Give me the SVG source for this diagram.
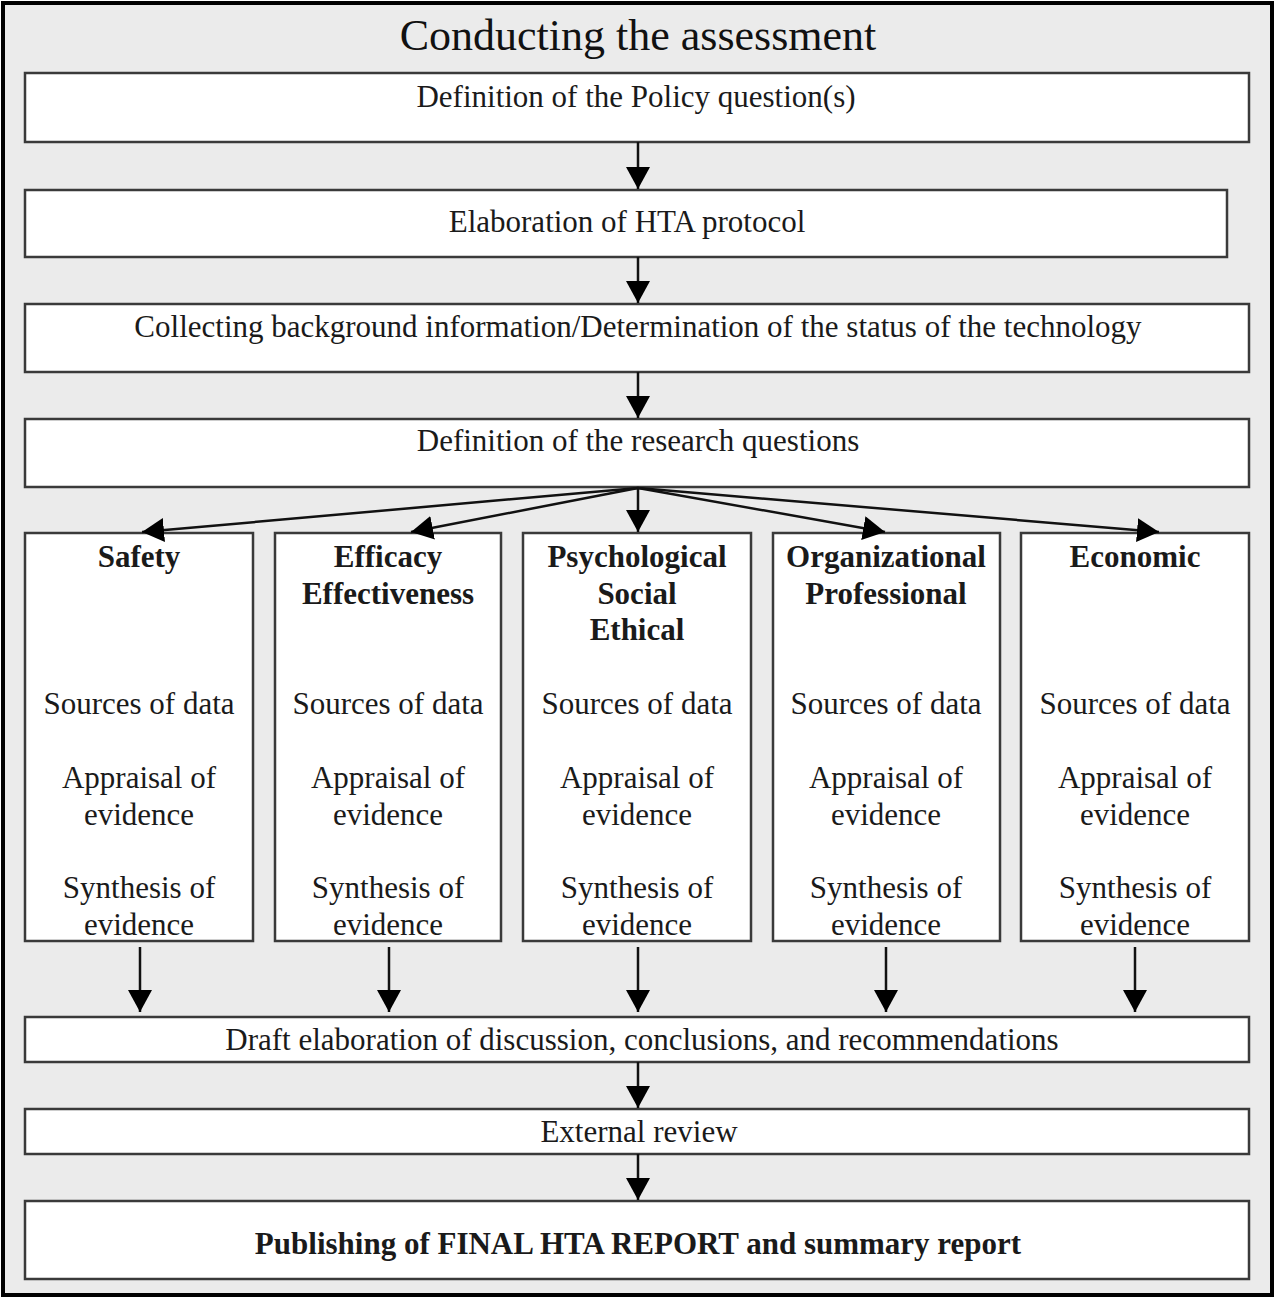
<svg xmlns="http://www.w3.org/2000/svg" width="1278" height="1302" viewBox="0 0 1278 1302">
<style>
.box{fill:#ffffff;stroke:#3a3a3a;stroke-width:2.5}
.t{font-family:"Liberation Serif","Times New Roman",serif;font-size:31px;fill:#1a1a1a;text-anchor:middle}
.b{font-weight:bold}
.title{font-family:"Liberation Serif","Times New Roman",serif;font-size:44px;fill:#111;text-anchor:middle}
.con line{stroke:#111;stroke-width:2.5;fill:none}
</style>
<defs>
<marker id="ah" viewBox="0 0 22 24" refX="22" refY="12" markerWidth="22" markerHeight="24" markerUnits="userSpaceOnUse" orient="auto">
<path d="M0,0 L22,12 L0,24 Z" fill="#000"/>
</marker>
</defs>
<rect x="0" y="0" width="1278" height="1302" fill="#ffffff"/>
<rect id="frame" x="3" y="3" width="1269" height="1292" fill="#ebebeb" stroke="#000" stroke-width="4"/>
<text class="title" x="638" y="50">Conducting the assessment</text>

<g id="policy"><rect class="box" x="25" y="73" width="1224" height="69"/><text class="t" x="636" y="107">Definition of the Policy question(s)</text></g>
<g id="protocol"><rect class="box" x="25" y="190" width="1202" height="67"/><text class="t" x="627" y="232">Elaboration of HTA protocol</text></g>
<g id="background"><rect class="box" x="25" y="304" width="1224" height="68"/><text class="t" x="638" y="337">Collecting background information/Determination of the status of the technology</text></g>
<g id="research"><rect class="box" x="25" y="419" width="1224" height="68"/><text class="t" x="638" y="451">Definition of the research questions</text></g>

<g id="safety"><rect class="box" x="25" y="533" width="228" height="408"/>
<text class="t b" x="139" y="567">Safety</text>
<text class="t" x="139" y="714">Sources of data</text>
<text class="t" x="139" y="788">Appraisal of</text><text class="t" x="139" y="825">evidence</text>
<text class="t" x="139" y="898">Synthesis of</text><text class="t" x="139" y="935">evidence</text></g>
<g id="efficacy"><rect class="box" x="275" y="533" width="226" height="408"/>
<text class="t b" x="388" y="567">Efficacy</text><text class="t b" x="388" y="604">Effectiveness</text>
<text class="t" x="388" y="714">Sources of data</text>
<text class="t" x="388" y="788">Appraisal of</text><text class="t" x="388" y="825">evidence</text>
<text class="t" x="388" y="898">Synthesis of</text><text class="t" x="388" y="935">evidence</text></g>
<g id="psychological"><rect class="box" x="523" y="533" width="228" height="408"/>
<text class="t b" x="637" y="567">Psychological</text><text class="t b" x="637" y="604">Social</text><text class="t b" x="637" y="640">Ethical</text>
<text class="t" x="637" y="714">Sources of data</text>
<text class="t" x="637" y="788">Appraisal of</text><text class="t" x="637" y="825">evidence</text>
<text class="t" x="637" y="898">Synthesis of</text><text class="t" x="637" y="935">evidence</text></g>
<g id="organizational"><rect class="box" x="773" y="533" width="227" height="408"/>
<text class="t b" x="886" y="567">Organizational</text><text class="t b" x="886" y="604">Professional</text>
<text class="t" x="886" y="714">Sources of data</text>
<text class="t" x="886" y="788">Appraisal of</text><text class="t" x="886" y="825">evidence</text>
<text class="t" x="886" y="898">Synthesis of</text><text class="t" x="886" y="935">evidence</text></g>
<g id="economic"><rect class="box" x="1021" y="533" width="228" height="408"/>
<text class="t b" x="1135" y="567">Economic</text>
<text class="t" x="1135" y="714">Sources of data</text>
<text class="t" x="1135" y="788">Appraisal of</text><text class="t" x="1135" y="825">evidence</text>
<text class="t" x="1135" y="898">Synthesis of</text><text class="t" x="1135" y="935">evidence</text></g>

<g id="draft"><rect class="box" x="25" y="1017" width="1224" height="45"/><text class="t" x="642" y="1050">Draft elaboration of discussion, conclusions, and recommendations</text></g>
<g id="review"><rect class="box" x="25" y="1109" width="1224" height="45"/><text class="t" x="639" y="1142">External review</text></g>
<g id="final"><rect class="box" x="25" y="1201" width="1224" height="78"/><text class="t b" x="638" y="1254">Publishing of FINAL HTA REPORT and summary report</text></g>

<g id="connectors" class="con">
<line x1="638" y1="142" x2="638" y2="189" marker-end="url(#ah)"/>
<line x1="638" y1="257" x2="638" y2="303" marker-end="url(#ah)"/>
<line x1="638" y1="372" x2="638" y2="418" marker-end="url(#ah)"/>
<line x1="638" y1="488" x2="142" y2="532" marker-end="url(#ah)"/>
<line x1="638" y1="488" x2="411" y2="532" marker-end="url(#ah)"/>
<line x1="638" y1="488" x2="638" y2="532" marker-end="url(#ah)"/>
<line x1="638" y1="488" x2="885" y2="532" marker-end="url(#ah)"/>
<line x1="638" y1="488" x2="1159" y2="532" marker-end="url(#ah)"/>
<line x1="140" y1="947" x2="140" y2="1012" marker-end="url(#ah)"/>
<line x1="389" y1="947" x2="389" y2="1012" marker-end="url(#ah)"/>
<line x1="638" y1="947" x2="638" y2="1012" marker-end="url(#ah)"/>
<line x1="886" y1="947" x2="886" y2="1012" marker-end="url(#ah)"/>
<line x1="1135" y1="947" x2="1135" y2="1012" marker-end="url(#ah)"/>
<line x1="638" y1="1062" x2="638" y2="1108" marker-end="url(#ah)"/>
<line x1="638" y1="1154" x2="638" y2="1200" marker-end="url(#ah)"/>
</g>
</svg>
